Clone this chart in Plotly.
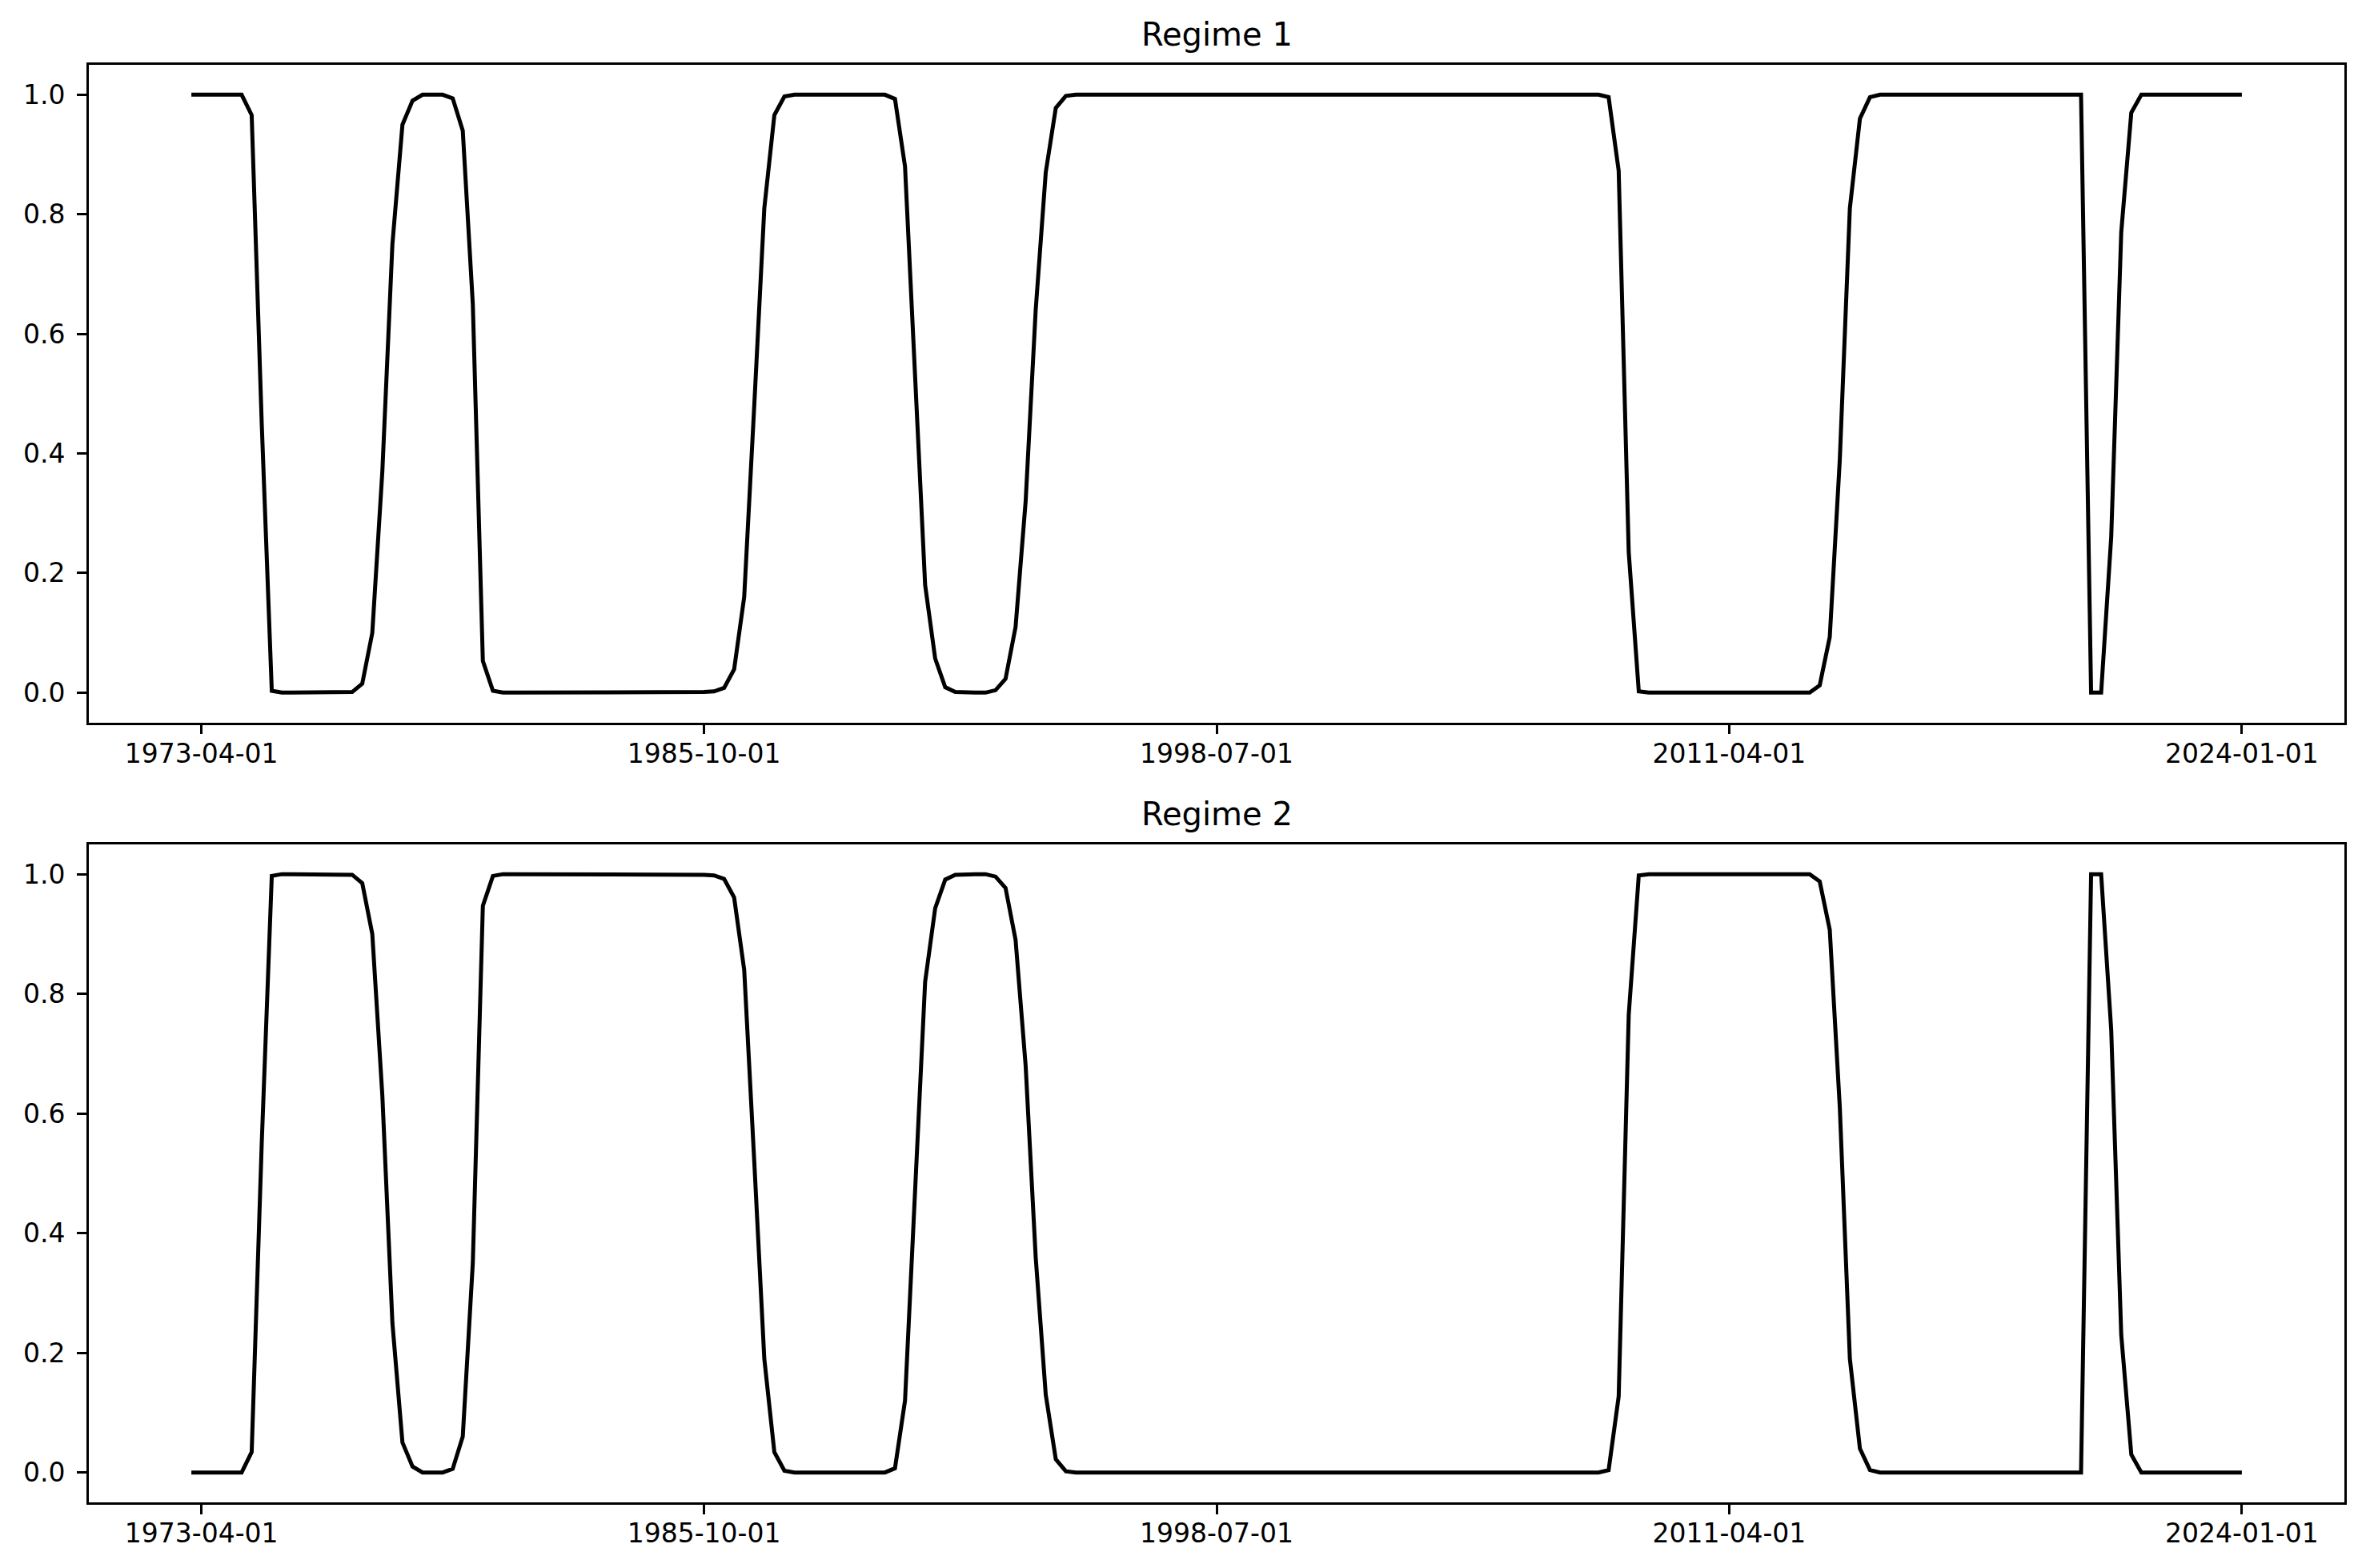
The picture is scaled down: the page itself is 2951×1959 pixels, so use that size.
import pandas as pd
import plotly.graph_objects as go

# Quarterly dates (categories)
dates = list(pd.date_range("1973-01-01", periods=205, freq="QS").strftime("%Y-%m-%d"))

tick_labels = ["1973-04-01", "1985-10-01", "1998-07-01", "2011-04-01", "2024-01-01"]
y_ticks = [0.0, 0.2, 0.4, 0.6, 0.8, 1.0]

regime1 = [
    1.0, 1.0, 1.0, 1.0, 1.0, 1.0, 0.966, 0.45, 0.003, 0.0,
    0.0, 0.0, 0.0, 0.0, 0.0, 0.0, 0.001, 0.015, 0.10, 0.37,
    0.75, 0.95, 0.99, 1.0, 1.0, 1.0, 0.994, 0.94, 0.65, 0.053,
    0.003, 0.0, 0.0, 0.0, 0.0, 0.0, 0.0, 0.0, 0.0, 0.0,
    0.0, 0.0, 0.0, 0.0, 0.0, 0.0, 0.0, 0.0, 0.0, 0.0,
    0.0, 0.001, 0.002, 0.008, 0.039, 0.16, 0.48, 0.81, 0.966, 0.997,
    1.0, 1.0, 1.0, 1.0, 1.0, 1.0, 1.0, 1.0, 1.0, 1.0,
    0.993, 0.88, 0.53, 0.18, 0.057, 0.009, 0.001, 0.0, 0.0, 0.0,
    0.004, 0.023, 0.11, 0.32, 0.64, 0.87, 0.978, 0.998, 1.0, 1.0,
    1.0, 1.0, 1.0, 1.0, 1.0, 1.0, 1.0, 1.0, 1.0, 1.0,
    1.0, 1.0, 1.0, 1.0, 1.0, 1.0, 1.0, 1.0, 1.0, 1.0,
    1.0, 1.0, 1.0, 1.0, 1.0, 1.0, 1.0, 1.0, 1.0, 1.0,
    1.0, 0.999, 0.999, 1.0, 1.0, 1.0, 1.0, 1.0, 1.0, 1.0,
    1.0, 1.0, 1.0, 1.0, 1.0, 1.0, 1.0, 1.0, 1.0, 1.0,
    1.0, 0.996, 0.873, 0.235, 0.002, 0.0, 0.0, 0.0, 0.0, 0.0,
    0.0, 0.0, 0.0, 0.0, 0.0, 0.0, 0.0, 0.0, 0.0, 0.0,
    0.0, 0.0, 0.012, 0.093, 0.39, 0.81, 0.96, 0.996, 1.0, 1.0,
    1.0, 1.0, 1.0, 1.0, 1.0, 1.0, 1.0, 1.0, 1.0, 1.0,
    1.0, 1.0, 1.0, 1.0, 1.0, 1.0, 1.0, 1.0, 1.0, 0.0,
    0.0, 0.26, 0.77, 0.97, 1.0, 1.0, 1.0, 1.0, 1.0, 1.0,
    1.0, 1.0, 1.0, 1.0, 1.0,
]

regime2 = [
    0.0, 0.0, 0.0, 0.0, 0.0, 0.0, 0.034, 0.55, 0.997, 1.0,
    1.0, 1.0, 1.0, 1.0, 1.0, 1.0, 0.999, 0.985, 0.90, 0.63,
    0.25, 0.05, 0.01, 0.0, 0.0, 0.0, 0.006, 0.06, 0.35, 0.947,
    0.997, 1.0, 1.0, 1.0, 1.0, 1.0, 1.0, 1.0, 1.0, 1.0,
    1.0, 1.0, 1.0, 1.0, 1.0, 1.0, 1.0, 1.0, 1.0, 1.0,
    1.0, 0.999, 0.998, 0.992, 0.961, 0.84, 0.52, 0.19, 0.034, 0.003,
    0.0, 0.0, 0.0, 0.0, 0.0, 0.0, 0.0, 0.0, 0.0, 0.0,
    0.007, 0.12, 0.47, 0.82, 0.943, 0.991, 0.999, 1.0, 1.0, 1.0,
    0.996, 0.977, 0.89, 0.68, 0.36, 0.13, 0.022, 0.002, 0.0, 0.0,
    0.0, 0.0, 0.0, 0.0, 0.0, 0.0, 0.0, 0.0, 0.0, 0.0,
    0.0, 0.0, 0.0, 0.0, 0.0, 0.0, 0.0, 0.0, 0.0, 0.0,
    0.0, 0.0, 0.0, 0.0, 0.0, 0.0, 0.0, 0.0, 0.0, 0.0,
    0.0, 0.001, 0.001, 0.0, 0.0, 0.0, 0.0, 0.0, 0.0, 0.0,
    0.0, 0.0, 0.0, 0.0, 0.0, 0.0, 0.0, 0.0, 0.0, 0.0,
    0.0, 0.004, 0.127, 0.765, 0.998, 1.0, 1.0, 1.0, 1.0, 1.0,
    1.0, 1.0, 1.0, 1.0, 1.0, 1.0, 1.0, 1.0, 1.0, 1.0,
    1.0, 1.0, 0.988, 0.907, 0.61, 0.19, 0.04, 0.004, 0.0, 0.0,
    0.0, 0.0, 0.0, 0.0, 0.0, 0.0, 0.0, 0.0, 0.0, 0.0,
    0.0, 0.0, 0.0, 0.0, 0.0, 0.0, 0.0, 0.0, 0.0, 1.0,
    1.0, 0.74, 0.23, 0.03, 0.0, 0.0, 0.0, 0.0, 0.0, 0.0,
    0.0, 0.0, 0.0, 0.0, 0.0,
]

titles = ["Regime 1", "Regime 2"]

FONT = "DejaVu Sans"
# page body has an 8px default margin; compensate so the axes land where the reference has them
W, H = 2943, 1951

fig = go.Figure()
fig.add_trace(go.Scatter(x=dates, y=regime1, mode="lines",
                         line=dict(color="black", width=5),
                         xaxis="x", yaxis="y", showlegend=False))
fig.add_trace(go.Scatter(x=dates, y=regime2, mode="lines",
                         line=dict(color="black", width=5),
                         xaxis="x2", yaxis="y2", showlegend=False))

axis_common = dict(
    showline=True, mirror=True, linecolor="black", linewidth=2.6,
    ticks="outside", ticklen=12, tickwidth=2.6, tickcolor="black",
    showgrid=False, zeroline=False,
    tickfont=dict(family=FONT, size=33, color="black"),
)

xcommon = dict(axis_common, type="category", range=[-10.2, 214.2],
               tickmode="array", tickvals=tick_labels, ticktext=tick_labels,
               ticklabelstandoff=-4)
ycommon = dict(axis_common, range=[-0.05, 1.05], tickmode="array",
               tickvals=y_ticks, ticktext=[f"{v:.1f}" for v in y_ticks],
               ticklabelstandoff=8)

top_dom = [0.5425, 1.0]
bot_dom = [0.0, 0.4578]

fig.update_layout(
    width=W, height=H,
    margin=dict(l=103, r=22, t=73, b=82),
    paper_bgcolor="white", plot_bgcolor="white",
    font=dict(family=FONT, size=33, color="black"),
    xaxis=dict(xcommon, domain=[0, 1], anchor="y"),
    yaxis=dict(ycommon, domain=top_dom, anchor="x"),
    xaxis2=dict(xcommon, domain=[0, 1], anchor="y2"),
    yaxis2=dict(ycommon, domain=bot_dom, anchor="x2"),
    annotations=[
        dict(text=titles[0], xref="paper", yref="paper", x=0.5, y=top_dom[1],
             xanchor="center", yanchor="bottom", yshift=13, showarrow=False,
             font=dict(family=FONT, size=40, color="black")),
        dict(text=titles[1], xref="paper", yref="paper", x=0.5, y=bot_dom[1],
             xanchor="center", yanchor="bottom", yshift=13, showarrow=False,
             font=dict(family=FONT, size=40, color="black")),
    ],
)

fig.write_html("out.html")
